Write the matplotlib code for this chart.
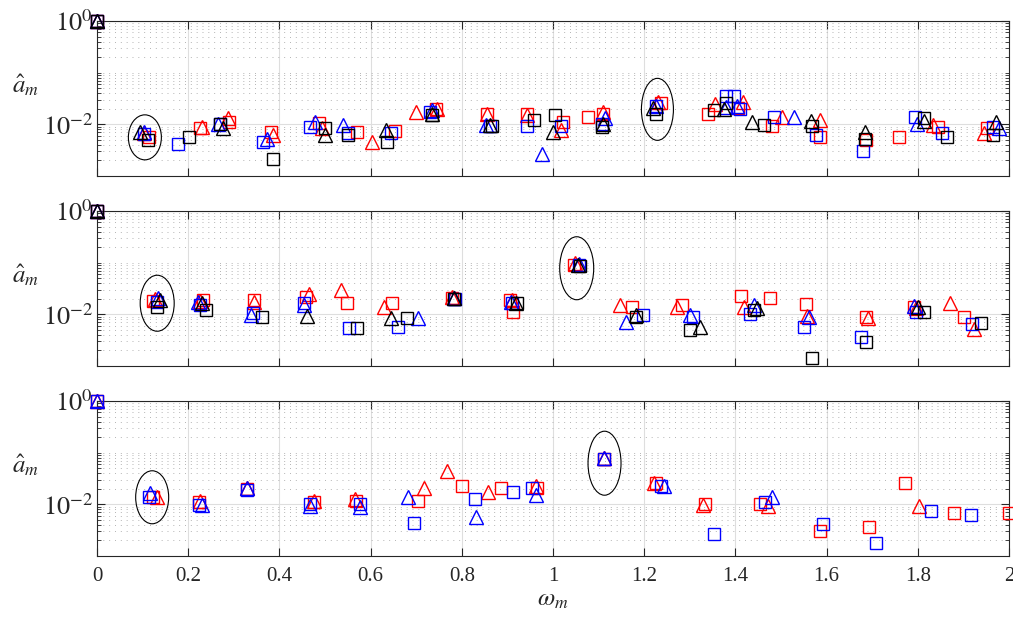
import numpy as np
import matplotlib
matplotlib.use("Agg")
import matplotlib.pyplot as plt
from matplotlib.patches import Ellipse
from matplotlib.transforms import ScaledTranslation
from matplotlib.ticker import LogLocator, FixedLocator, NullFormatter

plt.rcParams['font.family'] = ['Liberation Serif', 'DejaVu Serif']
plt.rcParams['mathtext.fontset'] = 'stix'

# ---------------- panel 1 ----------------
p1_rsq_x = [0, 0.114, 0.226, 0.29, 0.382, 0.486, 0.571, 0.654, 0.744, 0.856, 0.944, 1.021, 1.076, 1.11,
            1.236, 1.341, 1.405, 1.48, 1.585, 1.686, 1.758, 1.844, 1.952]
p1_rsq_y = [1, 5.6e-3, 8.4e-3, 1.1e-2, 7.0e-3, 1.05e-2, 7.0e-3, 7.3e-3, 1.95e-2, 1.6e-2, 1.6e-2, 1.1e-2, 1.37e-2, 1.6e-2,
            2.55e-2, 1.6e-2, 2.1e-2, 9.2e-3, 5.6e-3, 4.9e-3, 5.8e-3, 8.8e-3, 8.4e-3]
p1_rtr_x = [0, 0.103, 0.23, 0.288, 0.386, 0.493, 0.604, 0.70, 0.746, 0.856, 0.942, 1.017, 1.11, 1.231, 1.355,
            1.416, 1.502, 1.585, 1.833, 1.945]
p1_rtr_y = [1, 6.8e-3, 8.7e-3, 1.3e-2, 6.1e-3, 8.4e-3, 4.5e-3, 1.7e-2, 2.0e-2, 1.6e-2, 1.5e-2, 7.6e-3, 1.7e-2, 2.7e-2, 2.5e-2,
            2.7e-2, 1.4e-2, 1.2e-2, 9.6e-3, 6.7e-3]
p1_bsq_x = [0, 0.103, 0.178, 0.27, 0.365, 0.467, 0.551, 0.645, 0.731, 0.861, 0.944, 1.017, 1.108, 1.225, 1.379,
            1.396, 1.41, 1.484, 1.576, 1.679, 1.794, 1.853, 1.965]
p1_bsq_y = [1, 6.5e-3, 4.1e-3, 1.0e-2, 4.5e-3, 8.8e-3, 6.7e-3, 6.7e-3, 1.7e-2, 9.2e-3, 9.2e-3, 9.2e-3, 1.0e-2, 2.3e-2, 3.6e-2,
            3.6e-2, 2.0e-2, 1.36e-2, 6.1e-3, 3.0e-3, 1.36e-2, 6.7e-3, 8.8e-3]
p1_btr_x = [0, 0.103, 0.266, 0.373, 0.478, 0.54, 0.735, 0.852, 0.975, 1.115, 1.225, 1.379, 1.403, 1.528, 1.798, 1.979]
p1_btr_y = [1, 7.0e-3, 1.0e-2, 5.3e-3, 1.1e-2, 9.6e-3, 1.87e-2, 9.6e-3, 2.7e-3, 1.3e-2, 2.3e-2, 2.2e-2, 2.3e-2, 1.4e-2,
            1.0e-2, 8.4e-3]
p1_ksq_x = [0, 0.112, 0.202, 0.27, 0.387, 0.50, 0.551, 0.636, 0.735, 0.867, 0.959, 1.005, 1.108, 1.225, 1.352,
            1.379, 1.463, 1.567, 1.684, 1.813, 1.864, 1.965]
p1_ksq_y = [1, 4.9e-3, 5.6e-3, 1.0e-2, 2.1e-3, 8.4e-3, 6.1e-3, 4.5e-3, 1.5e-2, 9.2e-3, 1.2e-2, 1.5e-2, 8.8e-3, 1.6e-2, 1.87e-2,
            2.55e-2, 9.6e-3, 9.2e-3, 5.3e-3, 1.3e-2, 5.8e-3, 6.1e-3]
p1_ktr_x = [0, 0.094, 0.276, 0.50, 0.634, 0.735, 0.861, 1.001, 1.11, 1.22, 1.375, 1.436, 1.565, 1.684, 1.813, 1.972]
p1_ktr_y = [1, 7.0e-3, 8.4e-3, 6.1e-3, 7.6e-3, 1.6e-2, 9.6e-3, 7.0e-3, 1.0e-2, 2.1e-2, 2.0e-2, 1.1e-2, 1.15e-2, 7.0e-3,
            1.15e-2, 1.1e-2]

# ---------------- panel 2 ----------------
p2_rsq_x = [0, 0.123, 0.233, 0.345, 0.459, 0.548, 0.648, 0.779, 0.905, 0.913, 1.045, 1.174, 1.282, 1.412, 1.475,
            1.554, 1.686, 1.791, 1.901]
p2_rsq_y = [1, 1.79e-2, 1.87e-2, 1.87e-2, 2.2e-2, 1.65e-2, 1.65e-2, 2.1e-2, 1.87e-2, 1.1e-2, 8.9e-2, 1.37e-2, 1.5e-2, 2.3e-2,
            2.1e-2, 1.55e-2, 8.8e-3, 1.37e-2, 8.8e-3]
p2_rtr_x = [0, 0.127, 0.226, 0.345, 0.464, 0.536, 0.63, 0.779, 0.911, 1.049, 1.148, 1.273, 1.418, 1.558, 1.69,
            1.796, 1.87, 1.923]
p2_rtr_y = [1, 1.95e-2, 1.8e-2, 1.7e-2, 2.45e-2, 2.9e-2, 1.37e-2, 2.15e-2, 1.87e-2, 9.8e-2, 1.5e-2, 1.37e-2, 1.37e-2, 9.2e-3,
            8.4e-3, 1.3e-2, 1.65e-2, 5.1e-3]
p2_bsq_x = [0, 0.132, 0.226, 0.343, 0.453, 0.553, 0.661, 0.784, 0.911, 1.056, 1.197, 1.306, 1.431, 1.55, 1.675,
            1.796, 1.919]
p2_bsq_y = [1, 1.7e-2, 1.5e-2, 1.05e-2, 1.65e-2, 5.35e-3, 5.6e-3, 2.0e-2, 1.65e-2, 9.0e-2, 9.6e-3, 8.8e-3, 1.0e-2, 5.6e-3,
            3.6e-3, 1.1e-2, 6.4e-3]
p2_btr_x = [0, 0.134, 0.222, 0.338, 0.455, 0.705, 0.782, 0.907, 1.056, 1.159, 1.3, 1.44, 1.561, 1.791]
p2_btr_y = [1, 2.1e-2, 1.7e-2, 9.6e-3, 1.5e-2, 8.4e-3, 2.1e-2, 1.75e-2, 9.4e-2, 7.0e-3, 9.6e-3, 1.5e-2, 8.8e-3, 1.45e-2]
p2_ksq_x = [0, 0.132, 0.239, 0.362, 0.571, 0.68, 0.782, 0.921, 1.06, 1.181, 1.3, 1.44, 1.567, 1.686, 1.813, 1.938]
p2_ksq_y = [1, 1.37e-2, 1.2e-2, 8.8e-3, 5.35e-3, 8.4e-3, 2.0e-2, 1.65e-2, 8.5e-2, 8.8e-3, 4.9e-3, 1.2e-2, 1.46e-3, 2.9e-3,
            1.1e-2, 6.7e-3]
p2_ktr_x = [0, 0.138, 0.23, 0.46, 0.645, 0.782, 0.918, 1.054, 1.181, 1.322, 1.447, 1.8]
p2_ktr_y = [1, 1.87e-2, 1.65e-2, 9.2e-3, 8.4e-3, 2.1e-2, 1.65e-2, 8.9e-2, 9.6e-3, 5.6e-3, 1.3e-2, 1.37e-2]

# ---------------- panel 3 ----------------
p3_rsq_x = [0, 0.123, 0.224, 0.329, 0.475, 0.569, 0.703, 0.801, 0.887, 0.966, 1.111, 1.225, 1.333, 1.453, 1.585,
            1.693, 1.772, 1.879, 2.0]
p3_rsq_y = [1, 1.37e-2, 1.1e-2, 1.95e-2, 1.1e-2, 1.14e-2, 1.14e-2, 2.25e-2, 2.1e-2, 2.1e-2, 7.6e-2, 2.55e-2, 1.0e-2, 1.0e-2,
            3.0e-3, 3.7e-3, 2.55e-2, 6.7e-3, 6.7e-3]
p3_rtr_x = [0, 0.132, 0.226, 0.329, 0.475, 0.566, 0.718, 0.768, 0.858, 0.962, 1.111, 1.221, 1.328, 1.471, 1.802]
p3_rtr_y = [1, 1.37e-2, 1.14e-2, 2.1e-2, 1.14e-2, 1.25e-2, 2.1e-2, 4.4e-2, 1.7e-2, 2.25e-2, 7.9e-2, 2.55e-2, 9.6e-3, 9.2e-3,
            9.2e-3]
p3_bsq_x = [0, 0.114, 0.224, 0.329, 0.468, 0.577, 0.696, 0.83, 0.913, 0.955, 1.111, 1.236, 1.352, 1.464, 1.592,
            1.708, 1.829, 1.917]
p3_bsq_y = [1, 1.37e-2, 9.6e-3, 1.87e-2, 1.0e-2, 1.0e-2, 4.3e-3, 1.25e-2, 1.7e-2, 2.05e-2, 7.6e-2, 2.25e-2, 2.7e-3, 1.1e-2,
            4.1e-3, 1.8e-3, 7.3e-3, 6.1e-3]
p3_btr_x = [0, 0.116, 0.23, 0.329, 0.468, 0.577, 0.683, 0.832, 0.962, 1.111, 1.243, 1.48]
p3_btr_y = [1, 1.64e-2, 9.6e-3, 2.05e-2, 9.2e-3, 8.8e-3, 1.37e-2, 5.6e-3, 1.5e-2, 7.9e-2, 2.25e-2, 1.37e-2]

# circled modes: centre (x, y), size in pixels (w, h)
ell_x = [[0.105, 1.229], [0.132, 1.052], [0.121, 1.113]]
ell_y = [[5.6e-3, 1.95e-2], [1.64e-2, 7.8e-2], [1.37e-2, 6.25e-2]]
ell_w = [[33, 32], [34, 34], [33, 33]]
ell_h = [[45, 62], [56, 63], [53, 64]]

panels = [
    [(p1_rsq_x, p1_rsq_y, 'r', 's'), (p1_rtr_x, p1_rtr_y, 'r', '^'),
     (p1_bsq_x, p1_bsq_y, 'b', 's'), (p1_btr_x, p1_btr_y, 'b', '^'),
     (p1_ksq_x, p1_ksq_y, 'k', 's'), (p1_ktr_x, p1_ktr_y, 'k', '^')],
    [(p2_rsq_x, p2_rsq_y, 'r', 's'), (p2_rtr_x, p2_rtr_y, 'r', '^'),
     (p2_bsq_x, p2_bsq_y, 'b', 's'), (p2_btr_x, p2_btr_y, 'b', '^'),
     (p2_ksq_x, p2_ksq_y, 'k', 's'), (p2_ktr_x, p2_ktr_y, 'k', '^')],
    [(p3_rsq_x, p3_rsq_y, 'r', 's'), (p3_rtr_x, p3_rtr_y, 'r', '^'),
     (p3_bsq_x, p3_bsq_y, 'b', 's'), (p3_btr_x, p3_btr_y, 'b', '^')],
]

W, H = 1013, 621
fig = plt.figure(figsize=(W / 100, H / 100), dpi=100)
colors = {'r': '#ff0000', 'b': '#0000ff', 'k': '#000000'}
tops = [21, 211, 401]
ph = 155
left, right = 97, 1009

for i, series in enumerate(panels):
    ax = fig.add_axes([left / W, 1 - (tops[i] + ph) / H, (right - left) / W, ph / H])
    ax.set_yscale('log')
    ax.set_xlim(0, 2)
    ax.set_ylim(1e-3, 1)

    for xs, ys, c, m in series:
        ax.plot(xs, ys, linestyle='none', marker=m, ms=8.5 if m == 's' else 10.5,
                mfc='none', mec=colors[c], mew=1.0, clip_on=False, zorder=3)

    for ex, ey, ew, eh in zip(ell_x[i], ell_y[i], ell_w[i], ell_h[i]):
        tr = fig.dpi_scale_trans + ScaledTranslation(ex, ey, ax.transData)
        ax.add_patch(Ellipse((0, 0), ew / 100, eh / 100, transform=tr,
                             fill=False, ec='k', lw=0.8, zorder=4))

    ax.xaxis.set_major_locator(FixedLocator(np.arange(0, 2.01, 0.2)))
    ax.yaxis.set_major_locator(FixedLocator([1e-2, 1]))
    ax.yaxis.set_minor_locator(LogLocator(base=10, subs=np.arange(1, 10), numticks=20))
    ax.yaxis.set_minor_formatter(NullFormatter())
    ax.set_yticklabels([r'$10^{-2}$', r'$10^{0}$'], fontsize=19, color='#262626')

    ax.grid(True, which='major', color='#dedede', lw=0.8, linestyle='-')
    ax.grid(True, which='minor', axis='y', color='#b4b4b4', lw=0.7, linestyle=(0, (1, 5)))
    ax.set_axisbelow(True)

    ax.tick_params(which='both', direction='in', top=True, right=True, color='#262626')
    ax.tick_params(which='major', length=6, width=0.8, pad=3)
    ax.tick_params(which='minor', length=3, width=0.6)
    for s in ax.spines.values():
        s.set_color('#262626')
        s.set_linewidth(0.8)

    if i < 2:
        ax.set_xticklabels([])
    else:
        ax.set_xticklabels(['0', '0.2', '0.4', '0.6', '0.8', '1', '1.2', '1.4', '1.6', '1.8', '2'],
                           fontsize=15, color='#262626')
        ax.tick_params(axis='x', pad=8)
        ax.set_xlabel(r'$\omega_m$', fontsize=18, labelpad=2, color='#262626')

    ax.set_ylabel(r'$\hat{a}_m$', fontsize=18, rotation=0, va='center', ha='center', color='#262626')
    ax.yaxis.set_label_coords(-0.078, 0.59)

plt.savefig('out.png', dpi=100)
